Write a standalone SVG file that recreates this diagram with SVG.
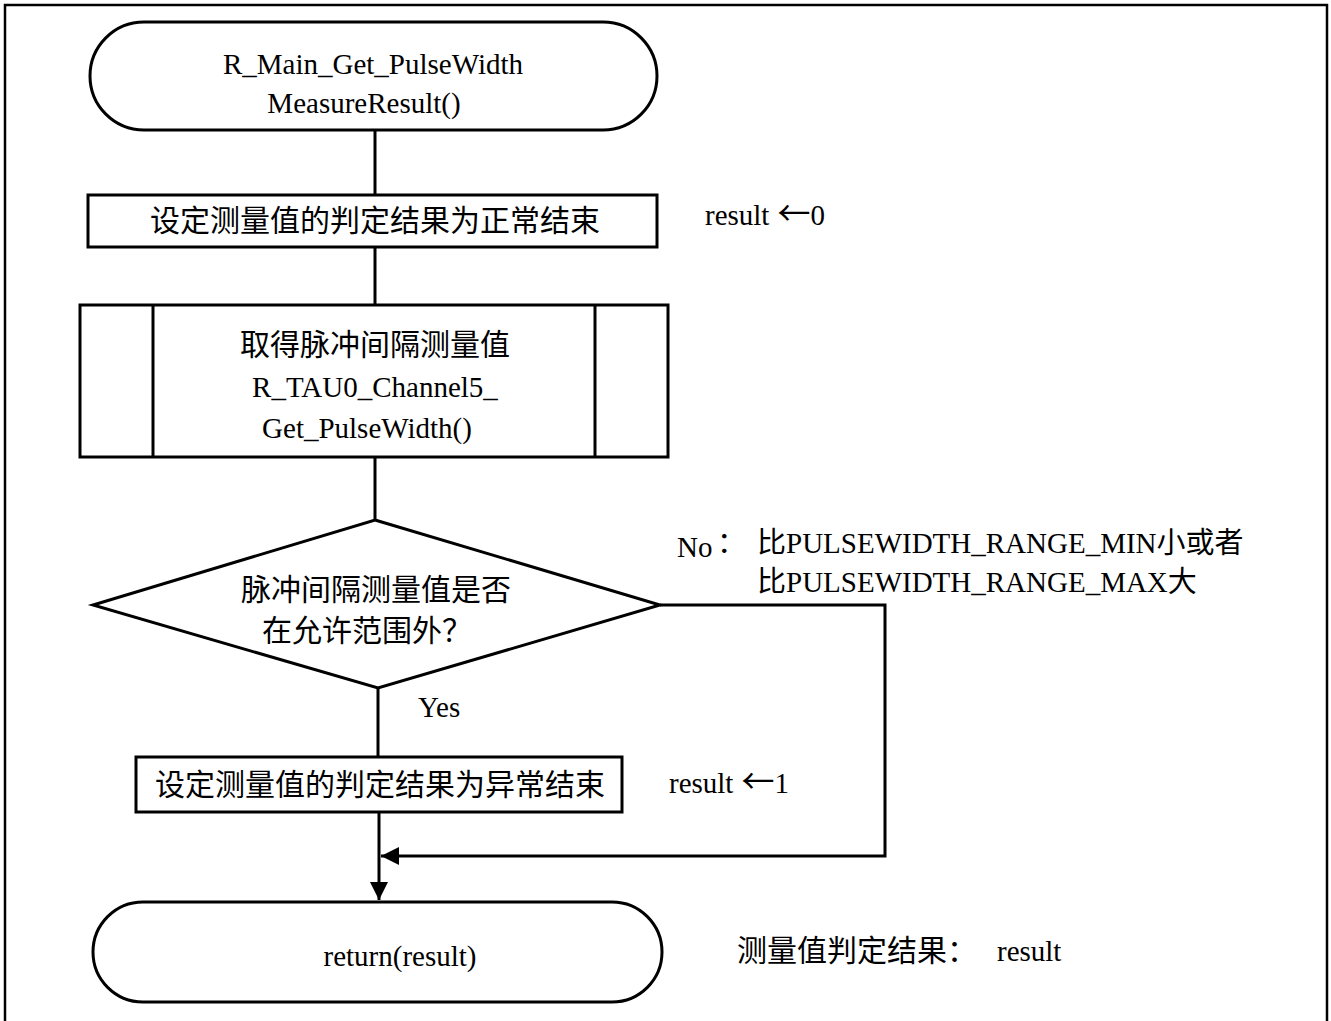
<svg xmlns="http://www.w3.org/2000/svg" width="1331" height="1021" viewBox="0 0 1331 1021">
  <style>
    .shape { fill: #ffffff; stroke: #000000; stroke-width: 3; }
    .wire { fill: none; stroke: #000000; stroke-width: 3; }
    .txt { font-family: "Liberation Serif", "Noto Sans CJK SC", serif; font-size: 29px; fill: #000000; }
    .cjk { font-size: 30px; }
    .arrow { font-family: "Noto Sans CJK SC", sans-serif; font-size: 33px; }
    .mid { text-anchor: middle; }
  </style>
  <defs>
    <marker id="head" viewBox="0 0 10 10" refX="10" refY="5" markerWidth="6.5" markerHeight="6" markerUnits="strokeWidth" orient="auto">
      <path d="M0,0 L10,5 L0,10 Z" fill="#000000"/>
    </marker>
  </defs>

  <!-- frame -->
  <rect x="5" y="5" width="1322" height="1030" fill="#ffffff" stroke="#000000" stroke-width="2.5"/>

  <!-- connectors -->
  <g id="connectors">
    <line class="wire" x1="375" y1="130" x2="375" y2="195"/>
    <line class="wire" x1="375" y1="247" x2="375" y2="305"/>
    <line class="wire" x1="375" y1="457" x2="375" y2="520"/>
    <line class="wire" x1="378" y1="688" x2="378" y2="757"/>
    <line class="wire" x1="379" y1="812" x2="379" y2="900" marker-end="url(#head)"/>
    <polyline class="wire" points="660,605 885,605 885,856 381,856" marker-end="url(#head)"/>
  </g>

  <!-- start terminal -->
  <g id="start">
    <rect class="shape" x="90" y="22" width="567" height="108" rx="54" ry="54"/>
    <text class="txt mid" x="373" y="74">R_Main_Get_PulseWidth</text>
    <text class="txt mid" x="364" y="113">MeasureResult()</text>
  </g>

  <!-- set result normal -->
  <g id="set-ok">
    <rect class="shape" x="88" y="195" width="569" height="52"/>
    <text class="txt cjk mid" x="375" y="231">设定测量值的判定结果为正常结束</text>
  </g>
  <text class="txt" x="705" y="225">result<tspan class="arrow" dx="8">←</tspan>0</text>

  <!-- subroutine call -->
  <g id="get-width">
    <rect class="shape" x="80" y="305" width="588" height="152"/>
    <line class="wire" x1="153" y1="305" x2="153" y2="457"/>
    <line class="wire" x1="595" y1="305" x2="595" y2="457"/>
    <text class="txt cjk mid" x="375" y="355">取得脉冲间隔测量值</text>
    <text class="txt mid" x="375" y="397">R_TAU0_Channel5_</text>
    <text class="txt mid" x="367" y="438">Get_PulseWidth()</text>
  </g>

  <!-- range check -->
  <g id="range-check">
    <polygon class="shape" points="375,520 660,605 378,688 93,605"/>
    <text class="txt cjk mid" x="376" y="600">脉冲间隔测量值是否</text>
    <text class="txt cjk mid" x="367" y="641">在允许范围外？</text>
  </g>
  <text class="txt" x="418" y="717">Yes</text>
  <text class="txt" x="677" y="557">No</text>
  <text class="txt" x="717" y="553">：</text>
  <text class="txt" x="757" y="553">比PULSEWIDTH_RANGE_MIN小或者</text>
  <text class="txt" x="757" y="592">比PULSEWIDTH_RANGE_MAX大</text>

  <!-- set result error -->
  <g id="set-err">
    <rect class="shape" x="136" y="757" width="486" height="55"/>
    <text class="txt cjk mid" x="380" y="795">设定测量值的判定结果为异常结束</text>
  </g>
  <text class="txt" x="669" y="793">result<tspan class="arrow" dx="8">←</tspan>1</text>

  <!-- end terminal -->
  <g id="end">
    <rect class="shape" x="93" y="902" width="569" height="100" rx="50" ry="50"/>
    <text class="txt mid" x="400" y="966">return(result)</text>
  </g>
  <text class="txt cjk" x="737" y="961">测量值判定结果：</text>
  <text class="txt" x="997" y="961">result</text>
</svg>
